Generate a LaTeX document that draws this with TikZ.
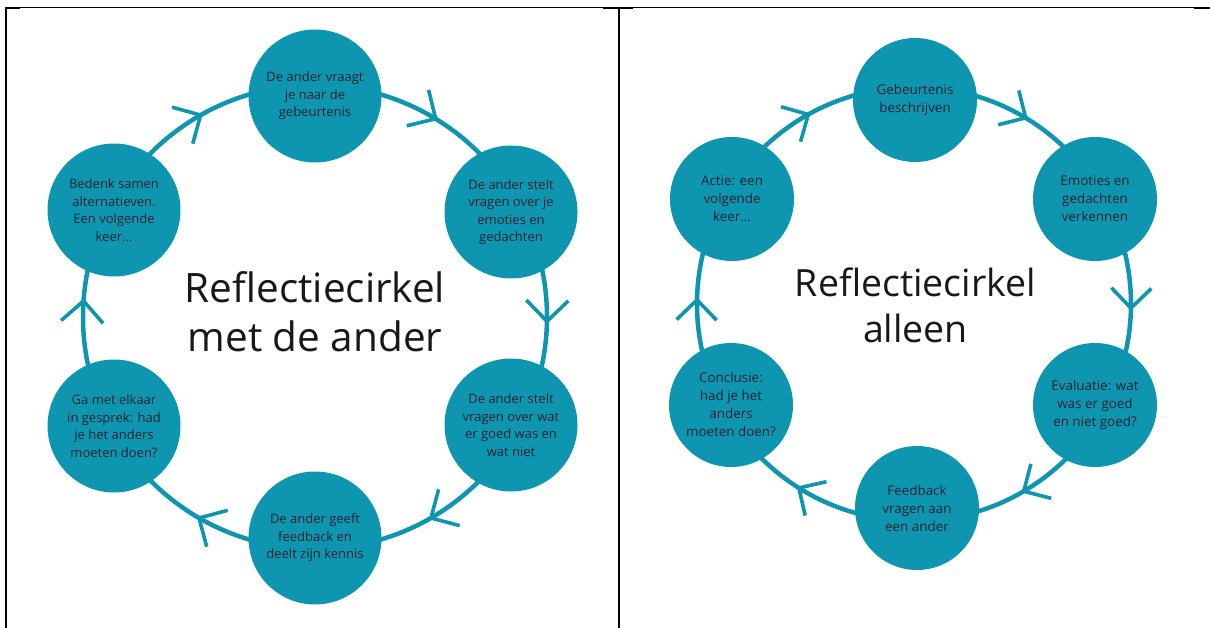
\documentclass[tikz,border=0pt]{standalone}
\usepackage{fontspec}
\setmainfont{Open Sans}
\usetikzlibrary{decorations.markings}
\definecolor{ringteal}{RGB}{14,150,176}
\definecolor{nodetext}{RGB}{20,34,50}
\definecolor{titletext}{RGB}{24,24,24}
\begin{document}
\begin{tikzpicture}[x=1pt,y=-1pt,
  stepnode/.style={circle, fill=ringteal, draw=none, minimum size=133pt, inner sep=0pt,
    align=center, text=nodetext, font=\fontsize{13}{17.5}\selectfont},
  stepnodeR/.style={stepnode, minimum size=124pt, font=\fontsize{13.4}{18}\selectfont},
  chev/.style={draw=ringteal, line width=3.6pt, line join=miter},
  ring/.style={draw=ringteal, line width=4.5pt, postaction=decorate},
  title/.style={anchor=base, align=center, text=titletext},
  border/.style={draw=black, line width=1.3pt}
]
\useasboundingbox (0,0) rectangle (1210,628);

% table borders
\coordinate (tl) at (5,7.3);
\coordinate (tr) at (1210,7.3);
\coordinate (bl) at (6,628);
\coordinate (tm) at (619.3,7.3);
\coordinate (bm) at (619.3,628);
\draw[border] (tl) -- (tr);
\draw[black, line width=2pt] (6,7) -- (bl);
\draw[black, line width=2pt] (tm) -- (bm);
\draw[black, line width=2.4pt] (5,7.8) -- (20,7.8);
\draw[black, line width=2.4pt] (603,7.8) -- (633,7.8);
\draw[black, line width=2.4pt] (1194,7.8) -- (1210,7.8);

% ---------- left panel ----------
\coordinate (Lc) at (315,317);
\draw[ring, decoration={markings,
   mark=at position 0.003 with {\draw[chev] (-21pt,21pt) -- (0pt,0pt) -- (-21pt,-21pt);},
   mark=at position 0.1667 with {\draw[chev] (-21pt,21pt) -- (0pt,0pt) -- (-21pt,-21pt);},
   mark=at position 0.3333 with {\draw[chev] (-21pt,21pt) -- (0pt,0pt) -- (-21pt,-21pt);},
   mark=at position 0.511 with {\draw[chev] (-21pt,21pt) -- (0pt,0pt) -- (-21pt,-21pt);},
   mark=at position 0.668 with {\draw[chev] (-21pt,21pt) -- (0pt,0pt) -- (-21pt,-21pt);},
   mark=at position 0.837 with {\draw[chev] (-21pt,21pt) -- (0pt,0pt) -- (-21pt,-21pt);}}]
  (Lc) circle[radius=232];

\node[stepnode] (L1) at (315,96) {De ander vraagt\\je naar de\\gebeurtenis};
\node[stepnode] (L2) at (511,212) {De ander stelt\\vragen over je\\emoties en\\gedachten};
\node[stepnode] (L3) at (511,425) {De ander stelt\\vragen over wat\\er goed was en\\wat niet};
\node[stepnode] (L4) at (315,538) {De ander geeft\\feedback en\\deelt zijn kennis};
\node[stepnode] (L5) at (114,426) {Ga met elkaar\\in gesprek: had\\je het anders\\moeten doen?};
\node[stepnode] (L6) at (114,210) {Bedenk samen\\alternatieven.\\Een volgende\\keer…};

\node[title, font=\fontsize{40.5}{49}\selectfont] (Ltitle) at (315,351.7) {Reflectiecirkel\\met de ander};

% ---------- right panel ----------
\coordinate (Rc) at (914,304);
\draw[ring, decoration={markings,
   mark=at position 0.003 with {\draw[chev] (-20pt,20pt) -- (0pt,0pt) -- (-20pt,-20pt);},
   mark=at position 0.1656 with {\draw[chev] (-20pt,20pt) -- (0pt,0pt) -- (-20pt,-20pt);},
   mark=at position 0.339 with {\draw[chev] (-20pt,20pt) -- (0pt,0pt) -- (-20pt,-20pt);},
   mark=at position 0.503 with {\draw[chev] (-20pt,20pt) -- (0pt,0pt) -- (-20pt,-20pt);},
   mark=at position 0.669 with {\draw[chev] (-20pt,20pt) -- (0pt,0pt) -- (-20pt,-20pt);},
   mark=at position 0.836 with {\draw[chev] (-20pt,20pt) -- (0pt,0pt) -- (-20pt,-20pt);}}]
  (Rc) circle[radius=217];

\node[stepnodeR] (R1) at (915,100) {Gebeurtenis\\beschrijven};
\node[stepnodeR] (R2) at (1095,199) {Emoties en\\gedachten\\verkennen};
\node[stepnodeR] (R3) at (1095,405) {Evaluatie: wat\\was er goed\\en niet goed?};
\node[stepnodeR] (R4) at (917,508) {Feedback\\vragen aan\\een ander};
\node[stepnodeR] (R5) at (731,405) {Conclusie:\\had je het\\anders\\moeten doen?};
\node[stepnodeR] (R6) at (732,199) {Actie: een\\volgende\\keer…};

\node[title, font=\fontsize{37.5}{45.4}\selectfont] (Rtitle) at (915.5,342) {Reflectiecirkel\\alleen};
\end{tikzpicture}
\end{document}
